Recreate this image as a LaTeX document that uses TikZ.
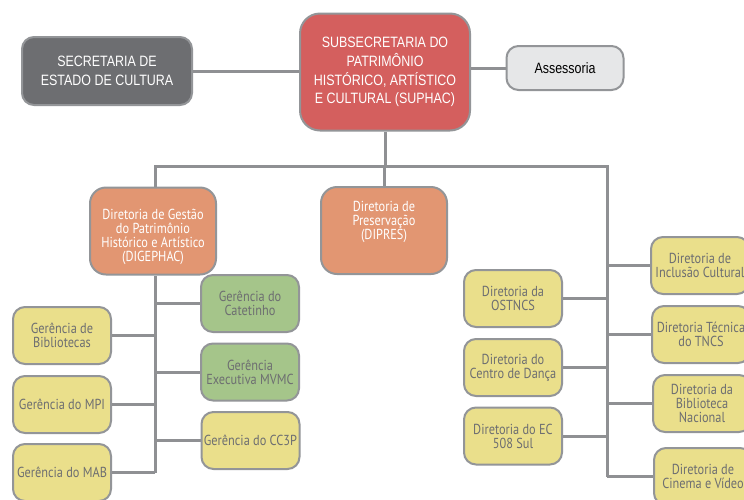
\documentclass[tikz,border=0pt]{standalone}
\usepackage{fontspec}
\newfontfamily\topfont[FakeStretch=0.83]{Liberation Sans}
\newfontfamily\lowfont[FakeStretch=0.85]{PT Sans}
\usetikzlibrary{backgrounds}
\definecolor{bordergray}{HTML}{939598}
\definecolor{linegray}{HTML}{8F9093}
\definecolor{darkgray}{HTML}{6D6E71}
\definecolor{supred}{HTML}{D45F5E}
\definecolor{lightgray}{HTML}{E6E7E8}
\definecolor{orng}{HTML}{E29672}
\definecolor{ylw}{HTML}{EADF8B}
\definecolor{grn}{HTML}{A5C58A}
\definecolor{txtgray}{HTML}{6D6E71}
\tikzset{
  box/.style={draw=bordergray, line width=2pt, rounded corners=12pt, align=center, inner sep=0pt},
  topbox/.style={box, font=\topfont\fontsize{15}{18.7}\selectfont},
  lowfnt/.style={font=\lowfont\fontsize{14.5}{14}\selectfont, align=center, inner sep=0pt},
  lowbox/.style={box, lowfnt},
  ybox/.style={lowbox, fill=ylw, text=txtgray, minimum width=98pt, minimum height=57pt},
  gbox/.style={lowbox, fill=grn, text=txtgray, minimum width=98pt, minimum height=57pt},
  obox/.style={lowbox, fill=orng, text=white, minimum width=126pt, minimum height=87pt, rounded corners=16pt},
  otext/.style={lowfnt, text=white},
  conn/.style={draw=linegray, line width=3pt}
}
\begin{document}
\begin{tikzpicture}[x=1pt,y=-1pt]
\useasboundingbox (0,0) rectangle (744,499);
\clip (0,0) rectangle (744,499);
% top
\node[topbox, fill=darkgray, text=white, minimum width=170pt, minimum height=68pt] (sec) at (107,71) {SECRETARIA DE\\ESTADO DE CULTURA};
\node[topbox, fill=supred, text=white, minimum width=170pt, minimum height=117pt, rounded corners=20pt] (sup) at (385,72) {SUBSECRETARIA DO\\PATRIMÔNIO\\HISTÓRICO, ARTÍSTICO\\E CULTURAL (SUPHAC)};
\node[topbox, fill=lightgray, text=black, minimum width=117pt, minimum height=44pt] (ass) at (565,68) {Assessoria};
% directorates
\node[obox] (dig) at (153,231) {};
\node[otext] (digT) at (153,237) {Diretoria de Gestão\\do Patrimônio\\Histórico e Artístico\\(DIGEPHAC)};
\node[obox] (dip) at (384,230.5) {};
\node[otext] (dipT) at (384,222) {Diretoria de\\Preservação\\(DIPRES)};
% left group
\node[gbox] (cat) at (250,303.5) {Gerência do\\Catetinho};
\node[gbox] (mvmc) at (250,372) {Gerência\\Executiva MVMC};
\node[ybox] (cc3p) at (250.5,440.5) {Gerência do CC3P};
\node[ybox] (bib) at (62,335.5) {Gerência de\\Bibliotecas};
\node[ybox] (mpi) at (62,404.5) {Gerência do MPI};
\node[ybox] (mab) at (62,472.5) {Gerência do MAB};
% right group
\node[ybox] (ost) at (513,298.5) {Diretoria da\\OSTNCS};
\node[ybox] (dan) at (513,367.5) {Diretoria do\\Centro de Dança};
\node[ybox] (ec) at (513,436) {Diretoria do EC\\508 Sul};
\node[ybox] (inc) at (700,265.5) {Diretoria de\\Inclusão Cultural};
\node[ybox] (tncs) at (701,334.5) {Diretoria Técnica\\do TNCS};
\node[ybox] (bn) at (702,403.5) {Diretoria da\\Biblioteca\\Nacional};
\node[ybox] (cin) at (703,476.5) {Diretoria de\\Cinema e Vídeo};
% connectors
\coordinate (busL) at (155,166);
\coordinate (busR) at (607,166);
\coordinate (tL) at (155,473);
\coordinate (tR) at (607,477);
\begin{scope}[on background layer]
\fill[white] (0,0) rectangle (744,499);
\draw[conn] (sec.east) -- (sec.east -| sup.west);
\draw[conn] (sup.east |- ass.west) -- (ass.west);
\draw[conn] (sup.south) -- (sup.south |- busL);
\draw[conn] (busL |- dig.north) -- (busL) -- (busR) -- (tR);
\draw[conn] (dip.north) -- (dip.north |- busL);
\draw[conn] (busL |- dig.south) -- (tL);
\draw[conn] (busL |- cat.west) -- (cat.west);
\draw[conn] (busL |- mvmc.west) -- (mvmc.west);
\draw[conn] (busL |- cc3p.west) -- (cc3p.west);
\draw[conn] (busL |- bib.east) -- (bib.east);
\draw[conn] (busL |- mpi.east) -- (mpi.east);
\draw[conn] (busL |- mab.east) -- (mab.east);
\draw[conn] (busR |- ost.east) -- (ost.east);
\draw[conn] (busR |- dan.east) -- (dan.east);
\draw[conn] (busR |- ec.east) -- (ec.east);
\draw[conn] (busR |- inc.west) -- (inc.west);
\draw[conn] (busR |- tncs.west) -- (tncs.west);
\draw[conn] (busR |- bn.west) -- (bn.west);
\draw[conn] (busR |- cin.west) -- (cin.west);
\end{scope}
\end{tikzpicture}
\end{document}
